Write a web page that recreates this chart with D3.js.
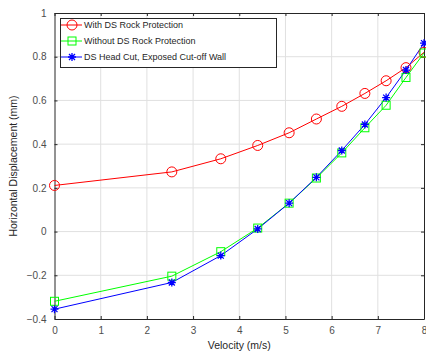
<!DOCTYPE html>
<html><head><meta charset="utf-8">
<script src="https://cdn.jsdelivr.net/npm/d3@7"></script>
<style>body{margin:0;background:#fff;}svg{display:block;font-family:"Liberation Sans",Arial,sans-serif;}</style>
</head><body><svg id="c" width="426" height="354"></svg>
<script>
const velocity = [0, 2.54, 3.6, 4.4, 5.08, 5.67, 6.22, 6.72, 7.18, 7.61, 8.0];
const withRock = [0.211, 0.273, 0.333, 0.394, 0.452, 0.515, 0.573, 0.632, 0.69, 0.75, 0.82];
const withoutRock = [-0.319, -0.204, -0.092, 0.016, 0.13, 0.245, 0.36, 0.475, 0.578, 0.705, 0.817];
const headCut = [-0.355, -0.233, -0.11, 0.012, 0.13, 0.248, 0.371, 0.49, 0.613, 0.739, 0.862];
const seriesNames = ["With DS Rock Protection", "Without DS Rock Protection", "DS Head Cut, Exposed Cut-off Wall"];
const xTicks = [0,1,2,3,4,5,6,7,8];
const yTicks = [-0.4,-0.2,0,0.2,0.4,0.6,0.8,1];
const xLabel = "Velocity (m/s)";
const yLabel = "Horizontal Displacement (mm)";

const svg = d3.select("#c");
const L=54.5, R=424, T=13, B=319;
const x = d3.scaleLinear().domain([0,8]).range([L,R]);
const y = d3.scaleLinear().domain([-0.4,1]).range([B,T]);
const axisCol="#262626", gridCol="#e0e0e0";

// grid
const g = svg.append("g");
g.selectAll(".gx").data(xTicks.slice(1,-1)).join("line")
 .attr("x1",d=>x(d)).attr("x2",d=>x(d)).attr("y1",T).attr("y2",B)
 .attr("stroke",gridCol).attr("stroke-width",1);
g.selectAll(".gy").data(yTicks.slice(1,-1)).join("line")
 .attr("y1",d=>y(d)).attr("y2",d=>y(d)).attr("x1",L).attr("x2",R)
 .attr("stroke",gridCol).attr("stroke-width",1);

// axes
const fmt = d=> d3.format("")(+d.toFixed(1));
const ax = svg.append("g").attr("transform",`translate(0,${B})`)
 .call(d3.axisBottom(x).tickValues(xTicks).tickSizeInner(-3).tickSizeOuter(0).tickPadding(8).tickFormat(d3.format("d")));
const ay = svg.append("g").attr("transform",`translate(${L},0)`)
 .call(d3.axisLeft(y).tickValues(yTicks).tickSizeInner(-3).tickSizeOuter(0).tickPadding(8).tickFormat(fmt));
const at = svg.append("g").attr("transform",`translate(0,${T})`)
 .call(d3.axisTop(x).tickValues(xTicks).tickSizeInner(-3).tickSizeOuter(0).tickFormat(""));
const ar = svg.append("g").attr("transform",`translate(${R},0)`)
 .call(d3.axisRight(y).tickValues(yTicks).tickSizeInner(-3).tickSizeOuter(0).tickFormat(""));
[ax,ay,at,ar].forEach(a=>{
  a.selectAll("path").attr("stroke",axisCol).attr("stroke-width",1);
  a.selectAll("line").attr("stroke",axisCol);
  a.selectAll("text").attr("fill","#4d4d4d").attr("font-size",10).attr("font-family","Liberation Sans, Arial, sans-serif");
});

// labels
svg.append("text").attr("x",(L+R)/2).attr("y",349).attr("text-anchor","middle")
 .attr("font-size",10.5).attr("fill","#262626").text(xLabel);
svg.append("text").attr("transform",`translate(17,${(T+B)/2}) rotate(-90)`).attr("text-anchor","middle")
 .attr("font-size",10.5).attr("fill","#262626").text(yLabel);

const series = [
 {name:seriesNames[0], vals:withRock, color:"#ff0000", marker:"circle"},
 {name:seriesNames[1], vals:withoutRock, color:"#00ff00", marker:"square"},
 {name:seriesNames[2], vals:headCut, color:"#0000ff", marker:"star"}
];
const line = d3.line().x(d=>x(d[0])).y(d=>y(d[1]));
function drawMarker(sel, type, color){
  if(type==="circle"){
    sel.append("circle").attr("r",5).attr("fill","none").attr("stroke",color).attr("stroke-width",1);
  } else if(type==="square"){
    sel.append("rect").attr("x",-4).attr("y",-4).attr("width",8).attr("height",8).attr("fill","none").attr("stroke",color).attr("stroke-width",1);
  } else {
    const s=4;
    const p = `M${-s},0L${s},0M0,${-s}L0,${s}M${-s*0.75},${-s*0.75}L${s*0.75},${s*0.75}M${-s*0.75},${s*0.75}L${s*0.75},${-s*0.75}`;
    sel.append("path").attr("d",p).attr("stroke",color).attr("stroke-width",1.3).attr("fill","none");
  }
}
const plot = svg.append("g");
series.forEach(s=>{
  const pts = velocity.map((v,i)=>[v,s.vals[i]]);
  plot.append("path").attr("d",line(pts)).attr("fill","none").attr("stroke",s.color).attr("stroke-width",1);
});
series.forEach(s=>{
  velocity.forEach((v,i)=>{
    const m = plot.append("g").attr("transform",`translate(${x(v)},${y(s.vals[i])})`);
    drawMarker(m,s.marker,s.color);
  });
});

// legend
const lg = svg.append("g");
lg.append("rect").attr("x",60.5).attr("y",18.5).attr("width",216).attr("height",49)
 .attr("fill","#fff").attr("stroke",axisCol).attr("stroke-width",1);
series.forEach((s,i)=>{
  const yy = 25+i*16;
  lg.append("line").attr("x1",61).attr("x2",82).attr("y1",yy).attr("y2",yy).attr("stroke",s.color).attr("stroke-width",1);
  const m = lg.append("g").attr("transform",`translate(72,${yy})`);
  drawMarker(m,s.marker,s.color);
  lg.append("text").attr("x",84).attr("y",yy+3).attr("font-size",9).attr("fill","#262626").text(s.name);
});
</script></body></html>
